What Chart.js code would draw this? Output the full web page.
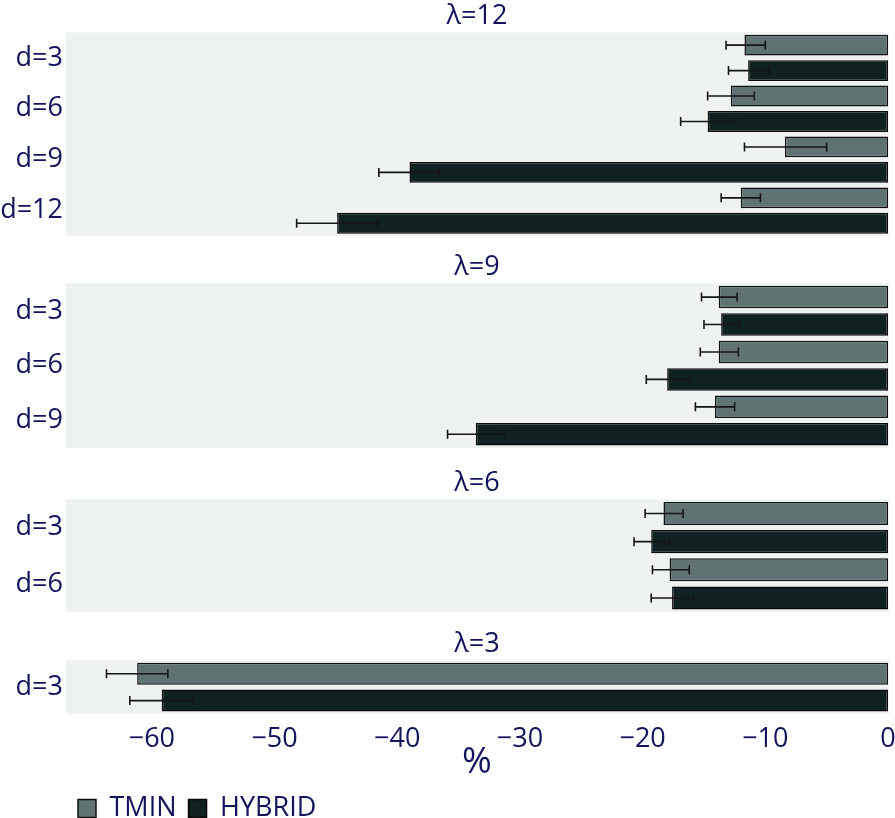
<!DOCTYPE html>
<html><head><meta charset="utf-8">
<script src="https://cdn.jsdelivr.net/npm/chart.js@4.4.0/dist/chart.umd.min.js"></script>
<style>
html,body{margin:0;padding:0;background:#fff;}
#wrap{position:relative;width:895px;height:818px;overflow:hidden;}
canvas{position:absolute;left:0;}
</style></head><body><div id="wrap"></div>
<script>
const panelTitles = ['λ=12', 'λ=9', 'λ=6', 'λ=3'];
const categories = [['d=3','d=6','d=9','d=12'], ['d=3','d=6','d=9'], ['d=3','d=6'], ['d=3']];
const tminValues    = [[-11.7,-12.8,-8.4,-12.0], [-13.8,-13.8,-14.1], [-18.3,-17.8], [-61.2]];
const tminErrLow    = [[-13.2,-14.7,-11.7,-13.6], [-15.2,-15.3,-15.7], [-19.8,-19.2], [-63.7]];
const tminErrHigh   = [[-10.0,-10.9,-5.0,-10.4], [-12.3,-12.2,-12.5], [-16.7,-16.2], [-58.7]];
const hybridValues  = [[-11.4,-14.7,-39.0,-44.9], [-13.6,-18.0,-33.6], [-19.3,-17.6], [-59.2]];
const hybridErrLow  = [[-13.0,-16.9,-41.5,-48.2], [-15.0,-19.7,-35.9], [-20.7,-19.3], [-61.8]];
const hybridErrHigh = [[-9.7,-12.4,-36.6,-41.6], [-12.1,-16.1,-31.3], [-17.8,-15.8], [-56.6]];
const xTicks = [-60, -50, -40, -30, -20, -10, 0];
const seriesNames = ['TMIN', 'HYBRID'];
const xLabel = '%';

const X_MIN = -67, X_MAX = 0;
const FONT = "'Open Sans', 'Noto Sans', sans-serif";
const TEXT = '#13135e';
const layout = [ {top:0, h:236}, {top:251, h:197}, {top:467, h:145}, {top:628, h:204} ];

const bgPlugin = {
  id: 'panelBg',
  beforeDraw(chart) {
    const a = chart.chartArea, ctx = chart.ctx;
    ctx.save(); ctx.fillStyle = '#eef2f1';
    ctx.fillRect(a.left, a.top, a.right - a.left + 1, a.bottom - a.top);
    ctx.restore();
  }
};
const errPlugin = {
  id: 'errBars',
  afterDatasetsDraw(chart) {
    const ctx = chart.ctx, xs = chart.scales.x;
    chart.data.datasets.forEach((ds, di) => {
      const meta = chart.getDatasetMeta(di);
      meta.data.forEach((el, i) => {
        const x1 = xs.getPixelForValue(ds.errLow[i]);
        const x2 = xs.getPixelForValue(ds.errHigh[i]);
        const y = el.y;
        ctx.save();
        ctx.strokeStyle = '#151515'; ctx.lineWidth = 1.6;
        ctx.beginPath();
        ctx.moveTo(x1, y); ctx.lineTo(x2, y);
        ctx.moveTo(x1, y - 4.5); ctx.lineTo(x1, y + 4.5);
        ctx.moveTo(x2, y - 4.5); ctx.lineTo(x2, y + 4.5);
        ctx.stroke(); ctx.restore();
      });
    });
  }
};

const wrap = document.getElementById('wrap');
panelTitles.forEach((title, p) => {
  const cv = document.createElement('canvas');
  cv.width = 895; cv.height = layout[p].h;
  cv.style.top = layout[p].top + 'px';
  wrap.appendChild(cv);
  const last = p === panelTitles.length - 1;
  new Chart(cv, {
    type: 'bar',
    data: {
      labels: categories[p],
      datasets: [
        { label: seriesNames[0], data: tminValues[p], errLow: tminErrLow[p], errHigh: tminErrHigh[p],
          backgroundColor: '#5f7372', borderColor: '#111', borderWidth: 1.5, borderSkipped: false,
          barPercentage: 0.82, categoryPercentage: 1 },
        { label: seriesNames[1], data: hybridValues[p], errLow: hybridErrLow[p], errHigh: hybridErrHigh[p],
          backgroundColor: '#102121', borderColor: '#0a0a0a', borderWidth: 1.5, borderSkipped: false,
          barPercentage: 0.82, categoryPercentage: 1 }
      ]
    },
    options: {
      indexAxis: 'y', responsive: false, animation: false, devicePixelRatio: 1,
      layout: { padding: { left: 0, right: 7, top: 0, bottom: 0 } },
      plugins: {
        title: { display: true, fullSize: false, text: title, color: TEXT, font: { family: FONT, size: 27, weight: 'normal' }, padding: { top: 0, bottom: 0 } },
        legend: last ? {
          display: true, position: 'bottom', align: 'start', fullSize: false,
          labels: { color: TEXT, font: { family: FONT, size: 27 }, boxWidth: 18, boxHeight: 18, padding: 12 }
        } : { display: false },
        tooltip: { enabled: false }
      },
      scales: {
        x: {
          type: 'linear', min: X_MIN, max: X_MAX, display: last,
          grid: { display: false, drawTicks: false }, border: { display: false },
          afterBuildTicks: (s) => { s.ticks = xTicks.map(v => ({ value: v })); },
          afterFit: (s) => { s.paddingLeft = 0; s.paddingRight = 0; },
          ticks: { color: TEXT, font: { family: FONT, size: 27, lineHeight: 1 }, padding: 12,
                   maxRotation: 0, autoSkip: false,
                   callback: (v) => v < 0 ? '\u2212' + Math.abs(v) : String(v) },
          title: { display: true, text: xLabel, color: TEXT, font: { family: FONT, size: 36, lineHeight: 1 }, padding: { top: -20, bottom: 2 } }
        },
        y: {
          type: 'category',
          grid: { display: false, drawTicks: false }, border: { display: false },
          afterFit: (s) => { s.width = 66; s.paddingTop = 0; s.paddingBottom = 0; },
          ticks: { color: TEXT, font: { family: FONT, size: 27 }, padding: 3 }
        }
      }
    },
    plugins: [bgPlugin, errPlugin]
  });
});
</script></body></html>
